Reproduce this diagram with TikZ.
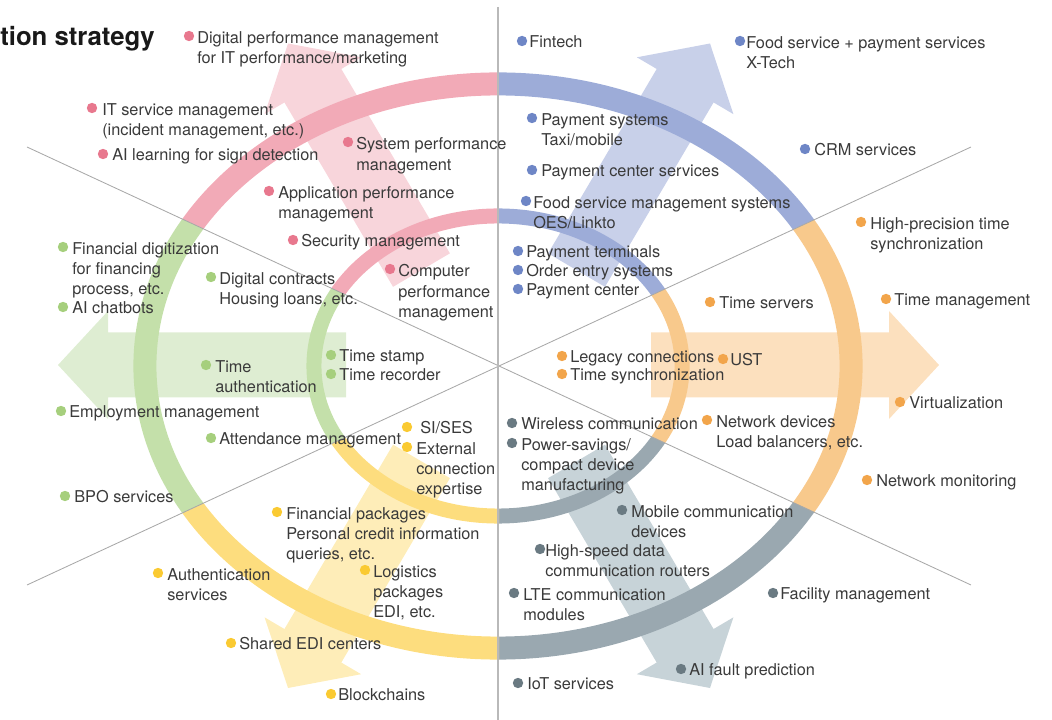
\documentclass[tikz,border=0pt]{standalone}
\usepackage{fontspec}
\setmainfont{TeX Gyre Heros}
\usetikzlibrary{positioning}

\definecolor{pinkring}{HTML}{F2AAB7}
\definecolor{pinkarr}{HTML}{F8D5DB}
\definecolor{pinkdot}{HTML}{E8788E}
\definecolor{bluering}{HTML}{9DACD8}
\definecolor{bluearr}{HTML}{C8D0E9}
\definecolor{bluedot}{HTML}{6E86C6}
\definecolor{orangering}{HTML}{F8C98C}
\definecolor{orangearr}{HTML}{FCE0BE}
\definecolor{orangedot}{HTML}{F2A54B}
\definecolor{grayring}{HTML}{9AA8B0}
\definecolor{grayarr}{HTML}{C7D3D8}
\definecolor{graydot}{HTML}{6A7A82}
\definecolor{greenring}{HTML}{C4E0AA}
\definecolor{greenarr}{HTML}{DEEDD2}
\definecolor{greendot}{HTML}{A6CF7D}
\definecolor{yellowring}{HTML}{FDDD7E}
\definecolor{yellowarr}{HTML}{FEEDB8}
\definecolor{yellowdot}{HTML}{FACA32}
\definecolor{textgray}{HTML}{3A3A3A}
\definecolor{axisgray}{HTML}{A8A8A8}

\begin{document}
\begin{tikzpicture}[x=0.025cm, y=-0.025cm,
  txt/.style={anchor=north west, inner sep=0pt, align=left, text=textgray,
    font=\fontsize{11.6}{14.3}\selectfont, execute at begin node=\strut},
  dot/.style={circle, fill=#1, inner sep=0pt, minimum size=0.26cm},
  outring/.style={draw=#1, line width=0.575cm},
  inring/.style={draw=#1, line width=0.375cm},
  axis/.style={draw=axisgray, line width=0.6pt}]
  \useasboundingbox (0,0) rectangle (1052,720);

  % broad arrows
  \fill[pinkarr, shift={(288,43.5)}, rotate=120.5] (-263,-33) -- (-49,-33) -- (-49,-56) -- (0,0) -- (-49,56) -- (-49,33) -- (-263,33) -- cycle;
  \fill[bluearr, shift={(710,43.5)}, rotate=59.5] (-263,-33) -- (-49,-33) -- (-49,-56) -- (0,0) -- (-49,56) -- (-49,33) -- (-263,33) -- cycle;
  \fill[yellowarr, shift={(288,688)}, rotate=239.5] (-263,-33) -- (-49,-33) -- (-49,-56) -- (0,0) -- (-49,56) -- (-49,33) -- (-263,33) -- cycle;
  \fill[grayarr, shift={(710,688)}, rotate=300.5] (-263,-33) -- (-49,-33) -- (-49,-56) -- (0,0) -- (-49,56) -- (-49,33) -- (-263,33) -- cycle;
  \fill[greenarr, shift={(58,365)}, rotate=180] (-288,-32.5) -- (-50,-32.5) -- (-50,-54) -- (0,0) -- (-50,54) -- (-50,32.5) -- (-288,32.5) -- cycle;
  \fill[orangearr, shift={(939,365)}] (-288,-32.5) -- (-50,-32.5) -- (-50,-54) -- (0,0) -- (-50,54) -- (-50,32.5) -- (-288,32.5) -- cycle;

  % rings, one sector per colour
  \begin{scope}
    \clip (499,366) -- (-917,-291) -- (-917,-1000) -- (499,-1000) -- cycle;
    \draw[outring=pinkring] (498,366) ellipse [x radius=8.825cm, y radius=7.05cm];
    \draw[inring=pinkring] (498,366) ellipse [x radius=4.6cm, y radius=3.75cm];
  \end{scope}
  \begin{scope}
    \clip (499,366) -- (499,-1000) -- (1915,-1000) -- (1915,-291) -- cycle;
    \draw[outring=bluering] (498,366) ellipse [x radius=8.825cm, y radius=7.05cm];
    \draw[inring=bluering] (498,366) ellipse [x radius=4.6cm, y radius=3.75cm];
  \end{scope}
  \begin{scope}
    \clip (499,366) -- (1915,-291) -- (1915,1023) -- cycle;
    \draw[outring=orangering] (498,366) ellipse [x radius=8.825cm, y radius=7.05cm];
    \draw[inring=orangering] (498,366) ellipse [x radius=4.6cm, y radius=3.75cm];
  \end{scope}
  \begin{scope}
    \clip (499,366) -- (1915,1023) -- (1915,1800) -- (499,1800) -- cycle;
    \draw[outring=grayring] (498,366) ellipse [x radius=8.825cm, y radius=7.05cm];
    \draw[inring=grayring] (498,366) ellipse [x radius=4.6cm, y radius=3.75cm];
  \end{scope}
  \begin{scope}
    \clip (499,366) -- (499,1800) -- (-917,1800) -- (-917,1023) -- cycle;
    \draw[outring=yellowring] (498,366) ellipse [x radius=8.825cm, y radius=7.05cm];
    \draw[inring=yellowring] (498,366) ellipse [x radius=4.6cm, y radius=3.75cm];
  \end{scope}
  \begin{scope}
    \clip (499,366) -- (-917,1023) -- (-917,-291) -- cycle;
    \draw[outring=greenring] (498,366) ellipse [x radius=8.825cm, y radius=7.05cm];
    \draw[inring=greenring] (498,366) ellipse [x radius=4.6cm, y radius=3.75cm];
  \end{scope}

  % dividing lines
  \coordinate (c) at (499,366);
  \coordinate (ul) at (27,147);
  \coordinate (ur) at (971,147);
  \coordinate (ll) at (27,585);
  \coordinate (lr) at (971,585);
  \coordinate (top) at (498,7);
  \coordinate (bot) at (498,720);
  \draw[axis] (ul) -- (lr);
  \draw[axis] (ur) -- (ll);
  \draw[axis, draw=gray!55, line width=1pt] (top) -- (bot);

  \node[font=\fontsize{18.3}{22}\selectfont\bfseries, text=black!90, anchor=base east, inner sep=0pt] (title) at (155,46) {tion strategy};

  % pink
  \node[dot=pinkdot] (digperf-d) at (189,36) {};
  \node[txt] (digperf) at (197,31.5) {Digital performance management\\for IT performance/marketing};
  \node[dot=pinkdot] (itsm-d) at (92,108) {};
  \node[txt] (itsm) at (102,103.5) {IT service management\\(incident management, etc.)};
  \node[dot=pinkdot] (aisign-d) at (103,154) {};
  \node[txt] (aisign) at (112,146) {AI learning for sign detection};
  \node[dot=pinkdot] (sysperf-d) at (348,142) {};
  \node[txt] (sysperf) at (356,137.5) {System performance\\management};
  \node[dot=pinkdot] (appperf-d) at (269,191) {};
  \node[txt] (appperf) at (278,186.5) {Application performance\\management};
  \node[dot=pinkdot] (secmgmt-d) at (293,240) {};
  \node[txt] (secmgmt) at (301,232) {Security management};
  \node[dot=pinkdot] (compperf-d) at (390,269) {};
  \node[txt] (compperf) at (398,264.5) {Computer\\performance\\management};

  % green
  \node[dot=greendot] (findig-d) at (63,247) {};
  \node[txt] (findig) at (72,242.5) {Financial digitization\\for financing\\process, etc.};
  \node[dot=greendot] (chatbot-d) at (63,307) {};
  \node[txt] (chatbot) at (72,299) {AI chatbots};
  \node[dot=greendot] (contract-d) at (211,277) {};
  \node[txt] (contract) at (219,272.5) {Digital contracts\\Housing loans, etc.};
  \node[dot=greendot] (timeauth-d) at (206,365) {};
  \node[txt] (timeauth) at (215,360.5) {Time\\authentication};
  \node[dot=greendot] (stamp-d) at (331,355) {};
  \node[txt] (stamp) at (339,347) {Time stamp};
  \node[dot=greendot] (recorder-d) at (331,374) {};
  \node[txt] (recorder) at (339,366) {Time recorder};
  \node[dot=greendot] (employ-d) at (61,411) {};
  \node[txt] (employ) at (69,403) {Employment management};
  \node[dot=greendot] (attend-d) at (211,438) {};
  \node[txt] (attend) at (219,430) {Attendance management};
  \node[dot=greendot] (bpo-d) at (65,496) {};
  \node[txt] (bpo) at (74,488) {BPO services};

  % yellow
  \node[dot=yellowdot] (sises-d) at (407,427) {};
  \node[txt] (sises) at (420,419) {SI/SES};
  \node[dot=yellowdot] (extconn-d) at (407,447) {};
  \node[txt] (extconn) at (416,442.5) {External\\connection\\expertise};
  \node[dot=yellowdot] (finpack-d) at (277,512) {};
  \node[txt] (finpack) at (286,507.5) {Financial packages\\Personal credit information\\queries, etc.};
  \node[dot=yellowdot] (authsvc-d) at (158,573) {};
  \node[txt] (authsvc) at (167,568.5) {Authentication\\services};
  \node[dot=yellowdot] (logist-d) at (365,570) {};
  \node[txt] (logist) at (373,565.5) {Logistics\\packages\\EDI, etc.};
  \node[dot=yellowdot] (edictr-d) at (231,643) {};
  \node[txt] (edictr) at (239,635) {Shared EDI centers};
  \node[dot=yellowdot] (chain-d) at (331,694) {};
  \node[txt] (chain) at (338,686) {Blockchains};

  % blue
  \node[dot=bluedot] (fintech-d) at (522,41) {};
  \node[txt] (fintech) at (529,33) {Fintech};
  \node[dot=bluedot] (foodpay-d) at (740,41) {};
  \node[txt] (foodpay) at (746,36.5) {Food service + payment services\\X-Tech};
  \node[dot=bluedot] (paysys-d) at (532,118) {};
  \node[txt] (paysys) at (541,113.5) {Payment systems\\Taxi/mobile};
  \node[dot=bluedot] (paycsvc-d) at (532,170) {};
  \node[txt] (paycsvc) at (541,162) {Payment center services};
  \node[dot=bluedot] (foodmgmt-d) at (526,201) {};
  \node[txt] (foodmgmt) at (533,196.5) {Food service management systems\\OES/Linkto};
  \node[dot=bluedot] (crm-d) at (805,149) {};
  \node[txt] (crm) at (814,141) {CRM services};
  \node[dot=bluedot] (payterm-d) at (518,251) {};
  \node[txt] (payterm) at (526,243) {Payment terminals};
  \node[dot=bluedot] (order-d) at (518,270) {};
  \node[txt] (order) at (526,262) {Order entry systems};
  \node[dot=bluedot] (payctr-d) at (518,289) {};
  \node[txt] (payctr) at (526,281) {Payment center};

  % orange
  \node[dot=orangedot] (hpsync-d) at (861,222) {};
  \node[txt] (hpsync) at (870,217.5) {High-precision time\\synchronization};
  \node[dot=orangedot] (tserv-d) at (710,302) {};
  \node[txt] (tserv) at (719,294) {Time servers};
  \node[dot=orangedot] (tmgmt-d) at (886,299) {};
  \node[txt] (tmgmt) at (894,291) {Time management};
  \node[dot=orangedot] (legacy-d) at (562,356) {};
  \node[txt] (legacy) at (570,348) {Legacy connections};
  \node[dot=orangedot] (tsync-d) at (562,374) {};
  \node[txt] (tsync) at (570,366) {Time synchronization};
  \node[dot=orangedot] (ust-d) at (723,359) {};
  \node[txt] (ust) at (730,351) {UST};
  \node[dot=orangedot] (virt-d) at (900,402) {};
  \node[txt] (virt) at (909,394) {Virtualization};
  \node[dot=orangedot] (netdev-d) at (707,420) {};
  \node[txt] (netdev) at (716,415.5) {Network devices\\Load balancers, etc.};
  \node[dot=orangedot] (netmon-d) at (867,480) {};
  \node[txt] (netmon) at (876,472) {Network monitoring};

  % gray
  \node[dot=graydot] (wireless-d) at (512,423) {};
  \node[txt] (wireless) at (521,415) {Wireless communication};
  \node[dot=graydot] (powersave-d) at (512,443) {};
  \node[txt] (powersave) at (521,438.5) {Power-savings/\\compact device\\manufacturing};
  \node[dot=graydot] (mobile-d) at (622,510) {};
  \node[txt] (mobile) at (631,505.5) {Mobile communication\\devices};
  \node[dot=graydot] (router-d) at (540,549) {};
  \node[txt] (router) at (545,544.5) {High-speed data\\communication routers};
  \node[dot=graydot] (lte-d) at (514,593) {};
  \node[txt] (lte) at (523,588.5) {LTE communication\\modules};
  \node[dot=graydot] (facility-d) at (773,593) {};
  \node[txt] (facility) at (780,585) {Facility management};
  \node[dot=graydot] (aifault-d) at (681,669) {};
  \node[txt] (aifault) at (689,661) {AI fault prediction};
  \node[dot=graydot] (iot-d) at (518,683) {};
  \node[txt] (iot) at (527,675) {IoT services};
\end{tikzpicture}
\end{document}
